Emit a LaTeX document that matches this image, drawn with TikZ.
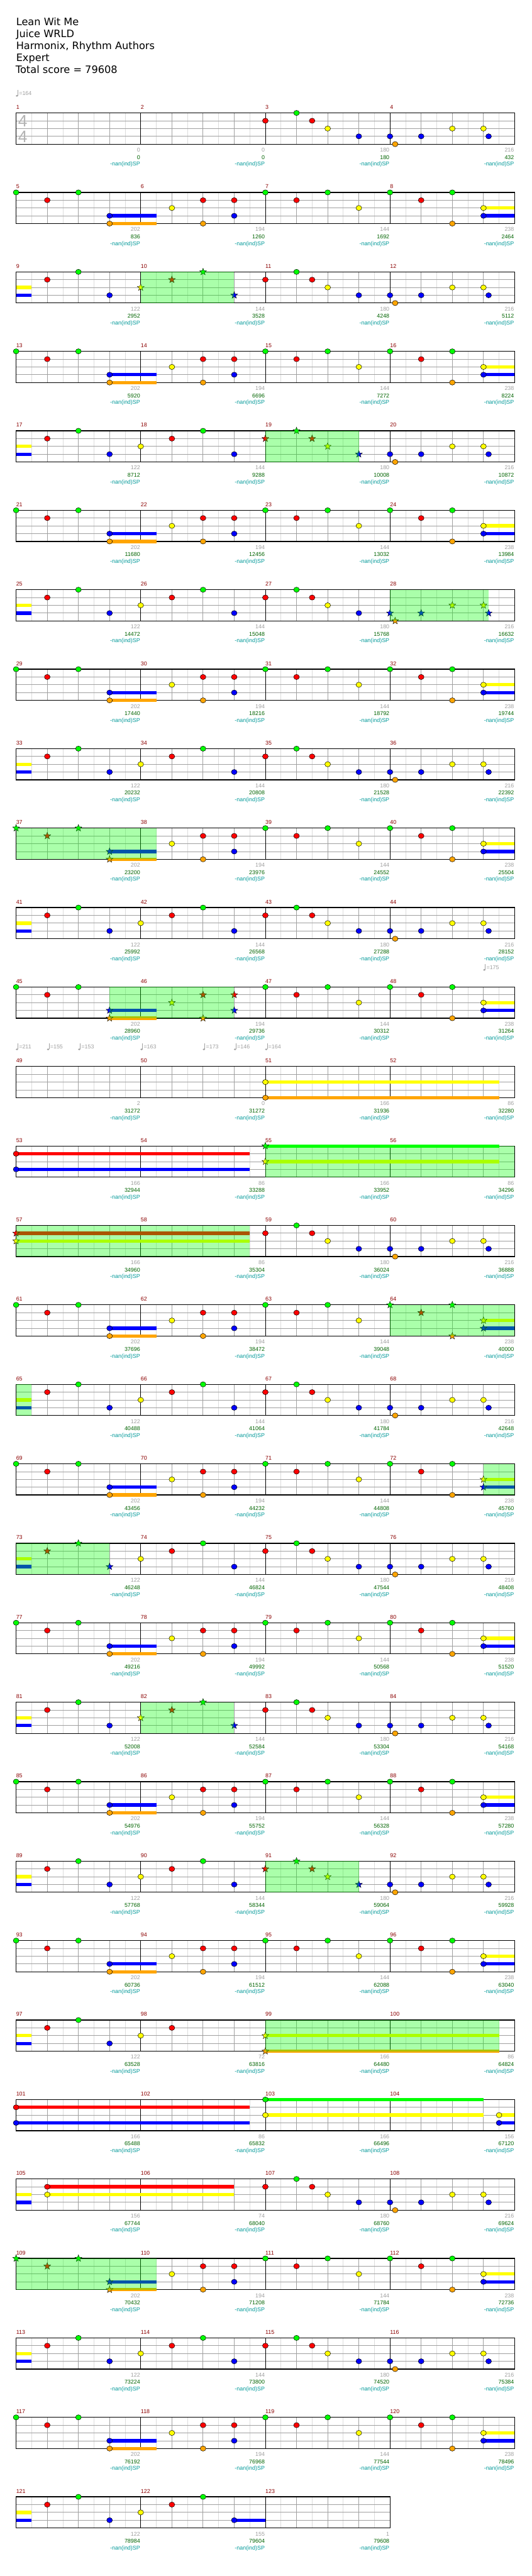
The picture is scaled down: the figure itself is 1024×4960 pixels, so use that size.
\documentclass[tikz,border=0pt]{standalone}
\usepackage{fontspec}
\setmainfont{Liberation Sans}
\newfontfamily\headfont{DejaVu Sans}
\definecolor{ink}{HTML}{000000}
\definecolor{rule}{HTML}{A0A0A0}
\definecolor{half}{HTML}{DCDCDC}
\definecolor{sig}{HTML}{B4B4B4}
\definecolor{barno}{HTML}{8B0000}
\definecolor{base}{HTML}{A0A0A0}
\definecolor{total}{HTML}{006400}
\definecolor{sptext}{HTML}{009999}
\definecolor{spfill}{HTML}{00FF00}
\definecolor{lane1}{HTML}{00FF00}
\definecolor{lane2}{HTML}{FF0000}
\definecolor{lane3}{HTML}{FFFF00}
\definecolor{lane4}{HTML}{0000FF}
\definecolor{lane5}{HTML}{FFA500}
\newcommand{\Mini}{\fontsize{10.8}{12}\selectfont}
\newcommand{\Head}{\headfont\fontsize{19.6}{23}\selectfont}
\newcommand{\Sig}{\fontsize{32}{32}\selectfont}
\newcommand{\SPnote}[3]{\filldraw[fill=#3,draw=ink,line width=0.5] (#1,#2) +(-90:7)
  \foreach \ang in {1,...,9}{ -- +({-90+36*\ang}:{mod(\ang,2)==1 ? 2.9 : 7})} -- cycle;}
% NOTE LISTS: eighth/lane/sustain/head
\def\riffA{0/2/0/1,2/1/0/1,3/2/0/1,4/3/0/1,6/4/0/1}
\def\riffB{0/4/0/1,0.33/5/0/1,2/4/0/1,4/3/0/1,6/3/0/1,6.33/4/0/1}
\def\riffCa{0/1/0/1,2/2/0/1,4/1/0/1}
\def\riffCb{6/4/3/1,6/5/3/1}
\def\riffC{\riffCa,\riffCb}
\def\riffD{2/3/0/1,4/2/0/1,4/5/0/1,6/2/0/1,6/4/0/1}
\def\riffE{0/1/0/1,2/2/0/1,4/1/0/1,6/3/0/1}
\def\riffFa{0/1/0/1,2/2/0/1,4/1/0/1,4/5/0/1}
\def\riffFb{6/3/2/1,6/4/2/1}
\def\riffF{\riffFa,\riffFb}
\def\riffGa{0/3/1/0,0/4/1/0}
\def\riffGb{2/2/0/1,4/1/0/1,6/4/0/1}
\def\riffG{\riffGa,\riffGb}
\def\riffH{0/3/0/1,2/2/0/1,4/1/0/1,6/4/0/1}
\def\riffI{0/3/0/1,2/2/0/1}
\def\riffJ{0/3/15/1,0/5/15/1}
\def\riffK{0/2/15/1,0/4/15/1}
\def\riffL{0/1/15/1,0/3/15/1}
\def\riffM{0/2/15/1,0/3/15/1}
\def\riffN{0/1/14/1,0/3/14/1,15/3/1/1,15/4/1/1}
\def\riffO{\riffGa,2/2/12/1,2/3/12/1}
\def\riffP{0/3/0/1,2/2/0/1,4/1/0/1,6/4/2/1}

\begin{document}
\begin{tikzpicture}[x=1pt,y=-1pt,font=\Mini,
    halfline/.style={half,line width=1},
    beatline/.style={rule,line width=1},
    barline/.style={ink,line width=1},
    spzone/.style={fill=spfill,opacity=0.333},
    txt/.style={inner sep=0}]
  \useasboundingbox[fill=white] (0,0) rectangle (1024,4960);
  % HEADER
  \node[txt,anchor=base west,font=\Head] (title) at (31,49.3) {Lean Wit Me};
  \node[txt,anchor=base west,font=\Head] (artist) at (31,72.3) {Juice WRLD};
  \node[txt,anchor=base west,font=\Head] (charter) at (31,95.5) {Harmonix, Rhythm Authors};
  \node[txt,anchor=base west,font=\Head] (level) at (31,118.5) {Expert};
  \node[txt,anchor=base west,font=\Head] (score) at (30,141.5) {Total score = 79608};
  % STAVES
  \foreach \rowi in {0,...,30}{
    \pgfmathsetmacro\yy{217.5+153*\rowi}
    \pgfmathtruncatemacro\last{\rowi==30 ? 23 : 31}
    \pgfmathsetmacro\xr{\rowi==30 ? 751 : 991}
    \foreach \ei in {1,3,...,\last} \draw[halfline] ({31+30*\ei},\yy) -- ++(0,60);
    \foreach \ei in {2,4,...,\last} \draw[beatline] ({31+30*\ei},\yy) -- ++(0,60);
    \foreach \k in {15,30,45} \draw[beatline] (31,\yy+\k) -- (\xr,\yy+\k);
    \foreach \ei in {8,16,24} \draw[barline] ({31+30*\ei},\yy) -- ++(0,60);
    \draw[ink,line width=1.5] (31,\yy) rectangle (\xr,\yy+60);}
  \node[txt,text=sig,font=\Sig] (sigtop) at (44,233.5) {4};
  \node[txt,text=sig,font=\Sig] (sigbot) at (44,263.5) {4};
  % MEASURE NUMBERS
  \foreach \i in {1,...,123}{
    \pgfmathtruncatemacro\rowi{(\i-1)/4}
    \pgfmathtruncatemacro\sloti{mod(\i-1,4)}
    \node[txt,anchor=base west,text=barno] (bar\i) at ({31+240*\sloti},{210.2+153*\rowi}) {\i};}
  % TEMPO
  \foreach \rowi/\ei/\bpm in {0/0/164,11/30/175,12/0/211,12/2/155,12/4/153,12/8/163,12/12/173,12/14/146,12/16/164}{
    \pgfmathsetmacro\xx{31+30*\ei}
    \pgfmathsetmacro\yy{180+153*\rowi}
    \fill[base] (\xx+1.6,\yy+4.5) ellipse [x radius=2.3,y radius=1.7];
    \draw[base,line width=0.8] (\xx+3.5,\yy+4.2) -- (\xx+3.5,\yy-7);
    \node[txt,anchor=base west,text=base] (bpm\rowi-\ei) at (\xx+5.5,\yy+3.7) {=\bpm};}
  % NOTES
  \foreach \meas/\riff/\starred in {3/\riffA/0,4/\riffB/0,
      5/\riffC/0,6/\riffD/0,7/\riffE/0,8/\riffF/0,
      9/\riffG/0,10/\riffH/1,11/\riffA/0,12/\riffB/0,
      13/\riffC/0,14/\riffD/0,15/\riffE/0,16/\riffF/0,
      17/\riffG/0,18/\riffH/0,19/\riffA/1,20/\riffB/0,
      21/\riffC/0,22/\riffD/0,23/\riffE/0,24/\riffF/0,
      25/\riffG/0,26/\riffH/0,27/\riffA/0,28/\riffB/1,
      29/\riffC/0,30/\riffD/0,31/\riffE/0,32/\riffF/0,
      33/\riffG/0,34/\riffH/0,35/\riffA/0,36/\riffB/0,
      37/\riffC/1,38/\riffD/0,39/\riffE/0,40/\riffF/0,
      41/\riffG/0,42/\riffH/0,43/\riffA/0,44/\riffB/0,
      45/\riffCa/0,45/\riffCb/1,46/\riffD/1,47/\riffE/0,48/\riffF/0,
      51/\riffJ/0,53/\riffK/0,55/\riffL/1,
      57/\riffM/1,59/\riffA/0,60/\riffB/0,
      61/\riffC/0,62/\riffD/0,63/\riffE/0,64/\riffF/1,
      65/\riffG/0,66/\riffH/0,67/\riffA/0,68/\riffB/0,
      69/\riffC/0,70/\riffD/0,71/\riffE/0,72/\riffFa/0,72/\riffFb/1,
      73/\riffGa/0,73/\riffGb/1,74/\riffH/0,75/\riffA/0,76/\riffB/0,
      77/\riffC/0,78/\riffD/0,79/\riffE/0,80/\riffF/0,
      81/\riffG/0,82/\riffH/1,83/\riffA/0,84/\riffB/0,
      85/\riffC/0,86/\riffD/0,87/\riffE/0,88/\riffF/0,
      89/\riffG/0,90/\riffH/0,91/\riffA/1,92/\riffB/0,
      93/\riffC/0,94/\riffD/0,95/\riffE/0,96/\riffF/0,
      97/\riffG/0,98/\riffI/0,99/\riffJ/1,
      101/\riffK/0,103/\riffN/0,
      105/\riffO/0,107/\riffA/0,108/\riffB/0,
      109/\riffC/1,110/\riffD/0,111/\riffE/0,112/\riffF/0,
      113/\riffG/0,114/\riffH/0,115/\riffA/0,116/\riffB/0,
      117/\riffC/0,118/\riffD/0,119/\riffE/0,120/\riffF/0,
      121/\riffG/0,122/\riffP/0}{
    \pgfmathtruncatemacro\rowi{(\meas-1)/4}
    \pgfmathtruncatemacro\sloti{mod(\meas-1,4)}
    \pgfmathsetmacro\yy{217.5+153*\rowi}
    \edef\lst{\riff}
    \foreach \ei/\lane/\dur/\hd in \lst{
      \pgfmathsetmacro\xx{31+240*\sloti+30*\ei}
      \pgfmathsetmacro\yl{\yy+15*(\lane-1)}
      \ifnum\dur>0 \fill[lane\lane] (\xx,\yl-3.2) rectangle ({\xx+30*\dur},\yl+3.2);\fi
      \ifnum\hd=1
        \ifnum\starred=1 \SPnote{\xx}{\yl}{lane\lane}%
        \else \filldraw[fill=lane\lane,draw=ink,line width=0.6] (\xx,\yl) ellipse [x radius=5.5,y radius=5];\fi
      \fi}}
  % STAR POWER
  \foreach \rowi/\spa/\spb in {2/8/14,4/16/22,6/24/30.33,9/0/9,11/6/14,13/16/32,14/0/15,15/24/32,
      16/0/1,17/30/32,18/0/6,20/8/14,22/16/22,24/16/31,27/0/9}
    \fill[spzone] ({31+30*\spa},{217.5+153*\rowi}) rectangle ({31+30*\spb},{277.5+153*\rowi});
  % SCORES
  \foreach \gain/\tot [count=\i from 0] in {0/0,0/0,180/180,216/432,
      202/836,194/1260,144/1692,238/2464, 122/2952,144/3528,180/4248,216/5112,
      202/5920,194/6696,144/7272,238/8224, 122/8712,144/9288,180/10008,216/10872,
      202/11680,194/12456,144/13032,238/13984, 122/14472,144/15048,180/15768,216/16632,
      202/17440,194/18216,144/18792,238/19744, 122/20232,144/20808,180/21528,216/22392,
      202/23200,194/23976,144/24552,238/25504, 122/25992,144/26568,180/27288,216/28152,
      202/28960,194/29736,144/30312,238/31264, 2/31272,0/31272,166/31936,86/32280,
      166/32944,86/33288,166/33952,86/34296, 166/34960,86/35304,180/36024,216/36888,
      202/37696,194/38472,144/39048,238/40000, 122/40488,144/41064,180/41784,216/42648,
      202/43456,194/44232,144/44808,238/45760, 122/46248,144/46824,180/47544,216/48408,
      202/49216,194/49992,144/50568,238/51520, 122/52008,144/52584,180/53304,216/54168,
      202/54976,194/55752,144/56328,238/57280, 122/57768,144/58344,180/59064,216/59928,
      202/60736,194/61512,144/62088,238/63040, 122/63528,72/63816,166/64480,86/64824,
      166/65488,86/65832,166/66496,156/67120, 156/67744,74/68040,180/68760,216/69624,
      202/70432,194/71208,144/71784,238/72736, 122/73224,144/73800,180/74520,216/75384,
      202/76192,194/76968,144/77544,238/78496, 122/78984,155/79604,1/79608}{
    \pgfmathtruncatemacro\rowi{\i/4}
    \pgfmathtruncatemacro\sloti{mod(\i,4)}
    \pgfmathsetmacro\xx{270+240*\sloti}
    \pgfmathsetmacro\yy{217.5+153*\rowi}
    \node[txt,anchor=base east,text=base] (gain\i) at (\xx,\yy+75) {\gain};
    \node[txt,anchor=base east,text=total] (run\i) at (\xx,\yy+89) {\tot};
    \node[txt,anchor=base east,text=sptext] (sp\i) at (\xx,\yy+102) {-nan(ind)SP};}
\end{tikzpicture}
\end{document}
